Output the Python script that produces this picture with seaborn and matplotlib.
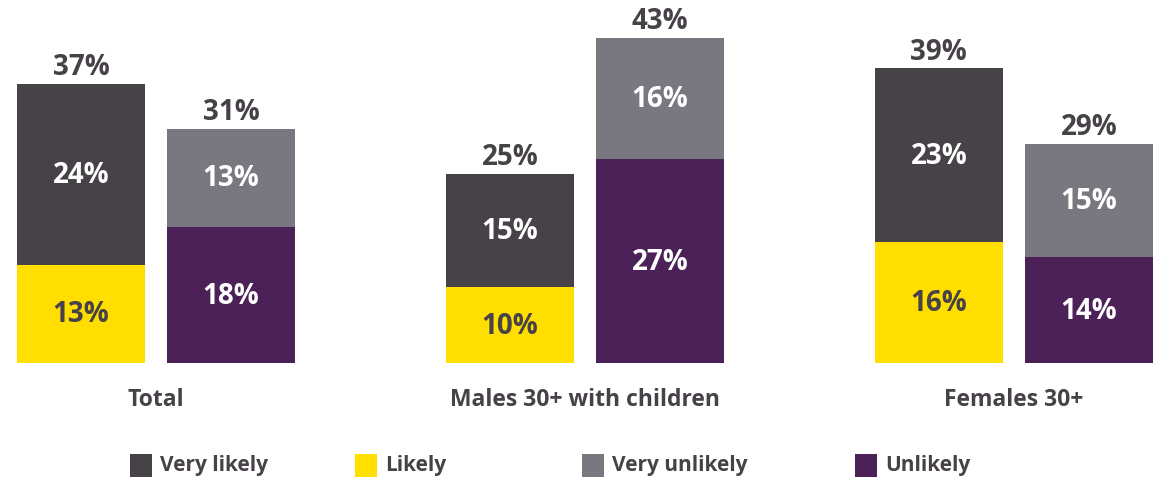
import pandas as pd
import matplotlib.pyplot as plt
import seaborn as sns
from matplotlib.patches import Rectangle
from matplotlib import font_manager

# Values (percent)
groups = ['Total', 'Males 30+ with children', 'Females 30+']
very_likely = [24, 15, 23]
likely = [13, 10, 16]
very_unlikely = [13, 16, 15]
unlikely = [18, 27, 14]
legend_labels = ['Very likely', 'Likely', 'Very unlikely', 'Unlikely']

DARK = '#474148'
YELLOW = '#FFDE00'
GREY = '#7A7780'
PURPLE = '#4B2157'

# Build long table: one row per bar (left = likely side, right = unlikely side)
rows = []
for i, g in enumerate(groups):
    rows.append({'group': g, 'side': 'likely', 'bottom': likely[i], 'top': very_likely[i]})
    rows.append({'group': g, 'side': 'unlikely', 'bottom': unlikely[i], 'top': very_unlikely[i]})
df = pd.DataFrame(rows)
df['total'] = df['bottom'] + df['top']

sns.set_style('white')

# heavy sans: prefer Open Sans Bold
bold_file = None
for pref in ['opensans-bold.', 'opensans-bold', 'notosans-bold.', 'roboto-bold.']:
    for f in font_manager.fontManager.ttflist:
        name = f.fname.lower().replace(' ', '').replace('_', '-').split('/')[-1]
        if name.startswith(pref):
            bold_file = f.fname
            break
    if bold_file:
        break
if bold_file:
    bfp = lambda s: font_manager.FontProperties(fname=bold_file, size=s)
else:
    bfp = lambda s: font_manager.FontProperties(family='Open Sans', weight='bold', size=s)

fig = plt.figure(figsize=(11.58, 4.81), dpi=100)
ax = fig.add_axes([0, 0.2432, 1, 0.7568])

# totals layer (coloured as the upper segment), then bottoms drawn over it
sns.barplot(data=df, x='group', y='total', hue='side', order=groups,
            hue_order=['likely', 'unlikely'], palette=[DARK, GREY],
            width=0.7, gap=0.143, saturation=1, legend=False, linewidth=0, ax=ax)
sns.barplot(data=df, x='group', y='bottom', hue='side', order=groups,
            hue_order=['likely', 'unlikely'], palette=[YELLOW, PURPLE],
            width=0.7, gap=0.143, saturation=1, legend=False, linewidth=0, ax=ax)

tot_c = ax.containers[:2]
bot_c = ax.containers[2:]
sides = ['likely', 'unlikely']
fs = 20
for k, side in enumerate(sides):
    sub = df[df['side'] == side].set_index('group').loc[groups]
    # totals above bars
    ax.bar_label(tot_c[k], labels=[f'{v}%' for v in sub['total']], padding=2,
                 fontproperties=bfp(fs), color=DARK)
    # bottom segment labels
    ax.bar_label(bot_c[k], labels=[f'{v}%' for v in sub['bottom']], label_type='center',
                 fontproperties=bfp(fs), color=DARK if side == 'likely' else 'white')
    # top segment labels
    for patch, b, t in zip(tot_c[k].patches, sub['bottom'], sub['top']):
        ax.text(patch.get_x() + patch.get_width() / 2, b + t / 2, f'{t}%',
                ha='center', va='center', fontproperties=bfp(fs), color='white')

ax.set_xlim(-0.364, 2.336)
ax.set_ylim(0, 48.2)
ax.set_xlabel('')
ax.set_ylabel('')
ax.set_yticks([])
ax.tick_params(axis='x', length=0, pad=17, labelcolor=DARK)
for lbl in ax.get_xticklabels():
    lbl.set_fontproperties(bfp(16.5))
sns.despine(ax=ax, left=True, bottom=True)

# legend row
leg_colors = [DARK, YELLOW, GREY, PURPLE]
leg_x = [130, 355, 582, 855]
W, H = 1158, 481
for x, c, lab in zip(leg_x, leg_colors, legend_labels):
    fig.add_artist(Rectangle((x / W, (H - 478) / H), 22 / W, 23 / H,
                             transform=fig.transFigure, color=c, lw=0))
    fig.text((x + 30) / W, (H - 466) / H, lab, ha='left', va='center',
             fontproperties=bfp(15), color=DARK)

fig.savefig('out.png', dpi=100)
